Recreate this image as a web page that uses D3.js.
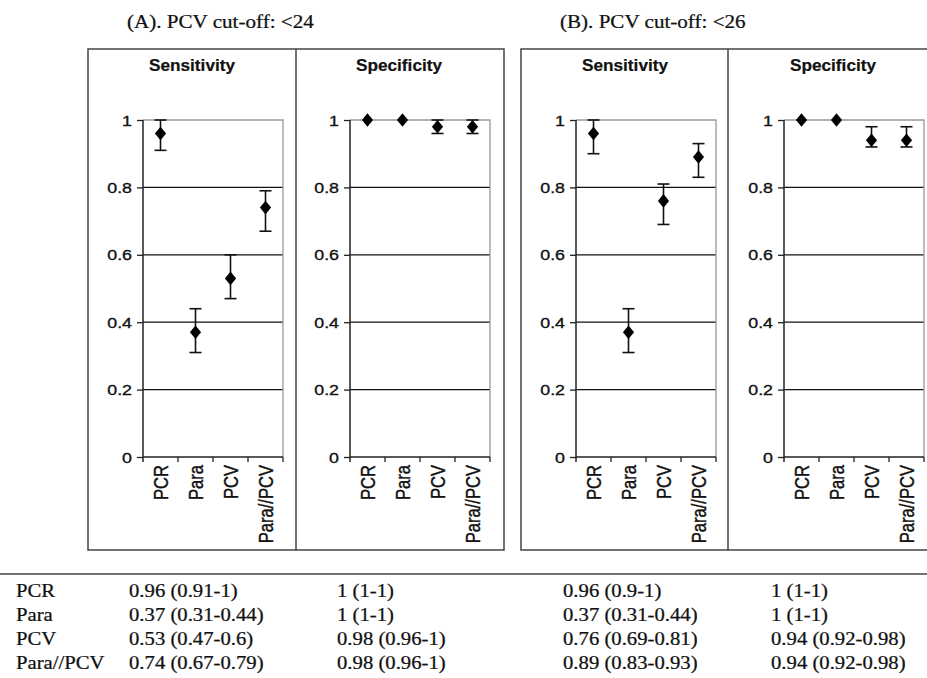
<!DOCTYPE html>
<html><head><meta charset="utf-8">
<script src="https://cdn.jsdelivr.net/npm/d3@7"></script>
<style>
body{margin:0;background:#fff;}
svg{display:block;}
.serif{font-family:"Liberation Serif","Times New Roman",serif;stroke:#111;stroke-width:0.25px;}
.sans{font-family:"Liberation Sans",Arial,sans-serif;stroke:#111;stroke-width:0.35px;}
</style></head>
<body>
<svg id="chart" width="927" height="678"></svg>
<script>
const categories = ["PCR", "Para", "PCV", "Para//PCV"];
const yTicks = [0, 0.2, 0.4, 0.6, 0.8, 1];

const sensA = [0.96, 0.37, 0.53, 0.74];
const sensALo = [0.91, 0.31, 0.47, 0.67];
const sensAHi = [1, 0.44, 0.6, 0.79];

const specA = [1, 1, 0.98, 0.98];
const specALo = [1, 1, 0.96, 0.96];
const specAHi = [1, 1, 1, 1];

const sensB = [0.96, 0.37, 0.76, 0.89];
const sensBLo = [0.9, 0.31, 0.69, 0.83];
const sensBHi = [1, 0.44, 0.81, 0.93];

const specB = [1, 1, 0.94, 0.94];
const specBLo = [1, 1, 0.92, 0.92];
const specBHi = [1, 1, 0.98, 0.98];

const groupTitles = ["(A). PCV cut-off: <24", "(B). PCV cut-off: <26"];
const panelTitles = ["Sensitivity", "Specificity"];

const svg = d3.select("#chart");

function txt(g, x, y, s, cls, size, anchor, sx) {
  return g.append("text")
    .attr("class", cls)
    .attr("transform", `translate(${x},${y}) scale(${sx},1)`)
    .attr("font-size", size)
    .attr("text-anchor", anchor || "start")
    .attr("fill", "#111")
    .text(s);
}

const y = d3.scaleLinear().domain([0, 1]).range([457, 120]);

function drawPanel(left, title, vals, lo, hi) {
  const g = svg.append("g");
  const x0 = left + 55;
  const x = d3.scaleBand().domain(categories).range([x0, x0 + 140]);
  txt(g, left + 104, 71, title, "sans", 15.8, "middle", 1.09).attr("font-weight", "bold").style("stroke-width", "0.2px");
  g.selectAll(".grid").data(yTicks.filter(d => d > 0 && d < 1)).join("line")
    .attr("x1", x0).attr("x2", x0 + 140)
    .attr("y1", d => y(d)).attr("y2", d => y(d))
    .attr("stroke", "#111").attr("stroke-width", 1.2);
  g.append("path")
    .attr("d", `M${x0},${y(1)}H${x0 + 140}V${y(0)}`)
    .attr("fill", "none").attr("stroke", "#999").attr("stroke-width", 1.3);
  const ax = g.append("g").attr("transform", `translate(${x0},0)`)
    .call(d3.axisLeft(y).tickValues(yTicks).tickSize(6).tickSizeOuter(0).tickFormat(d => String(+d.toFixed(1))));
  ax.select(".domain").attr("stroke", "#222").attr("stroke-width", 1.5)
    .attr("d", `M0,${y(1)}V${y(0) + 5}`);
  ax.selectAll(".tick line").attr("stroke", "#222").attr("stroke-width", 1.3);
  ax.selectAll(".tick text").remove();
  yTicks.forEach(d => {
    txt(ax, -11, y(d) + 5.6, String(+d.toFixed(1)), "sans", 15.5, "end", 1.15);
  });
  g.append("line").attr("x1", x0).attr("x2", x0 + 140)
    .attr("y1", y(0)).attr("y2", y(0)).attr("stroke", "#222").attr("stroke-width", 1.5);
  const bounds = categories.map(c => x(c) + x.bandwidth());
  g.selectAll(".xt").data(bounds).join("line")
    .attr("x1", d => d).attr("x2", d => d)
    .attr("y1", y(0)).attr("y2", y(0) + 5)
    .attr("stroke", "#222").attr("stroke-width", 1.3);
  categories.forEach(c => {
    const cx = x(c) + x.bandwidth() / 2;
    g.append("text")
      .attr("class", "sans")
      .attr("font-size", 16.6)
      .attr("text-anchor", "end")
      .attr("fill", "#111")
      .attr("transform", `translate(${cx + 7},465) scale(1.17,1) rotate(-90)`)
      .text(c);
  });
  const eb = g.selectAll(".eb").data(categories.map((c, i) => ({c, v: vals[i], lo: lo[i], hi: hi[i]}))).join("g");
  eb.filter(d => d.hi > d.lo).each(function(d) {
    const cx = x(d.c) + x.bandwidth() / 2;
    const s = d3.select(this);
    s.append("line").attr("x1", cx).attr("x2", cx).attr("y1", y(d.lo)).attr("y2", y(d.hi))
      .attr("stroke", "#111").attr("stroke-width", 1.6);
    [d.lo, d.hi].forEach(v => s.append("line").attr("x1", cx - 6).attr("x2", cx + 6)
      .attr("y1", y(v)).attr("y2", y(v)).attr("stroke", "#111").attr("stroke-width", 1.6));
  });
  eb.append("path")
    .attr("d", d => {
      const cx = x(d.c) + x.bandwidth() / 2, cy = y(d.v);
      return `M${cx},${cy - 6.8}L${cx + 5.6},${cy}L${cx},${cy + 6.8}L${cx - 5.6},${cy}Z`;
    })
    .attr("fill", "#000");
}

function box(l, r, mid) {
  svg.append("path").attr("d", `M${l},49H${r}V550H${l}Z M${mid},49V550`)
    .attr("fill", "none").attr("stroke", "#444").attr("stroke-width", 1.5);
}
box(88, 504, 296);
box(521, 940, 728);

txt(svg, 127, 28, groupTitles[0], "serif", 19, "start", 1.11);
txt(svg, 560, 28, groupTitles[1], "serif", 19, "start", 1.11);

drawPanel(88, panelTitles[0], sensA, sensALo, sensAHi);
drawPanel(295, panelTitles[1], specA, specALo, specAHi);
drawPanel(521, panelTitles[0], sensB, sensBLo, sensBHi);
drawPanel(729, panelTitles[1], specB, specBLo, specBHi);

svg.append("line").attr("x1", 0).attr("x2", 927).attr("y1", 574).attr("y2", 574)
  .attr("stroke", "#444").attr("stroke-width", 1.5);
const fmt = (v, l, h) => `${v} (${l}-${h})`;
const cols = [
  {x: 129, v: sensA, l: sensALo, h: sensAHi},
  {x: 337, v: specA, l: specALo, h: specAHi},
  {x: 563, v: sensB, l: sensBLo, h: sensBHi},
  {x: 771, v: specB, l: specBLo, h: specBHi}
];
const rowY = [597, 621, 645, 669];
categories.forEach((c, i) => {
  txt(svg, 16, rowY[i], c, "serif", 18.5, "start", 1.12);
  cols.forEach(col => txt(svg, col.x, rowY[i], fmt(col.v[i], col.l[i], col.h[i]), "serif", 18.5, "start", 1.12));
});
</script>
</body></html>
